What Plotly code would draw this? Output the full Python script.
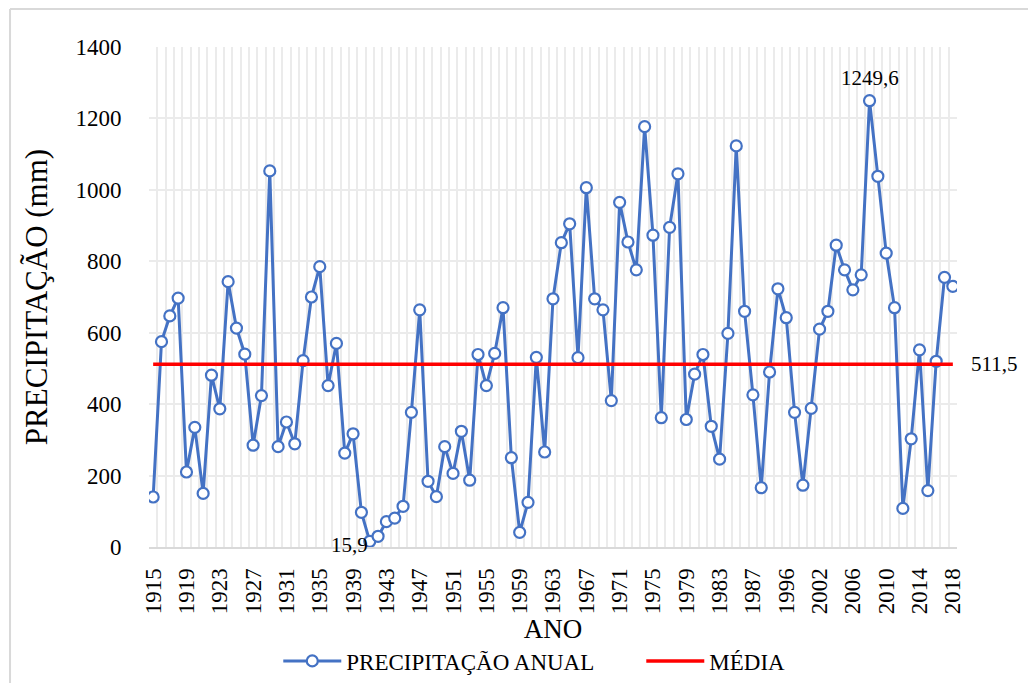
"""Precipitação anual com a média do período."""

import plotly.graph_objects as go

# Years on the category axis (gaps after 1987 and after 1996 as in the source)
anos = list(range(1915, 1988)) + [1988, 1989, 1990, 1996, 1997, 1998, 2000] + list(range(2002, 2019))

# Annual precipitation (mm)
precipitacao = [
    140, 575, 647, 697, 210, 335, 150, 481, 387, 743,
    613, 540, 285, 424, 1053, 281, 350, 289, 522, 700,
    785, 452, 570, 263, 317, 97, 15.9, 30, 71, 81,
    114, 377, 664, 184, 141, 281, 206, 324, 187, 539,
    452, 542, 670, 250, 41, 125, 531, 266, 695, 852,
    905, 530, 1006, 695, 664, 410, 965, 854, 776, 1177,
    873, 362, 895, 1045, 357, 484, 539, 338, 246, 598,
    1123, 660, 426, 166, 490, 723, 642, 377, 173, 388,
    610, 660, 845, 776, 720, 762, 1249.6, 1038, 823, 670,
    108, 303, 552, 158, 520, 755, 730,
]
media = 511.5

y_ticks = [0, 200, 400, 600, 800, 1000, 1200, 1400]

FONT = "Liberation Serif, Times New Roman, serif"
AZUL = "#4472C4"
GRID = "#ebebeb"

idx = list(range(len(anos)))
tick_idx = idx[::4]
tick_txt = [str(anos[i]) for i in tick_idx]

fig = go.Figure()
fig.add_trace(go.Scatter(
    x=idx, y=precipitacao,
    name="PRECIPITAÇÃO ANUAL",
    mode="lines+markers",
    line=dict(color=AZUL, width=3),
    marker=dict(symbol="circle", size=11, color="white", line=dict(color=AZUL, width=2.2)),
))
fig.add_trace(go.Scatter(
    x=[idx[0], idx[-1]], y=[media, media],
    name="MÉDIA",
    mode="lines",
    line=dict(color="#FF0000", width=3.5),
))

# data labels
i_max = precipitacao.index(max(precipitacao))
i_min = precipitacao.index(min(precipitacao))
fig.add_annotation(x=i_max, y=precipitacao[i_max], text="1249,6", showarrow=False,
                   yanchor="bottom", yshift=9, font=dict(family=FONT, size=21, color="black"))
fig.add_annotation(x=i_min, y=precipitacao[i_min], text="15,9", showarrow=False,
                   xanchor="right", xshift=0, yanchor="middle", yshift=-4,
                   font=dict(family=FONT, size=21, color="black"))
fig.add_annotation(x=idx[-1], y=media, text="511,5", showarrow=False,
                   xanchor="left", xshift=16, yanchor="middle",
                   font=dict(family=FONT, size=21, color="black"))

# outer chart frame (top and left edges visible in the source)
fig.add_shape(type="line", xref="paper", yref="paper", x0=-0.172, x1=1.2, y0=1.076, y1=1.076,
              line=dict(color="#d9d9d9", width=2))
fig.add_shape(type="line", xref="paper", yref="paper", x0=-0.172, x1=-0.172, y0=1.076, y1=-0.3,
              line=dict(color="#d9d9d9", width=2))

# the page body adds 8px around the figure, so margins are 8px smaller on top/left
fig.update_layout(
    width=1036, height=683,
    margin=dict(l=141, r=87, t=39, b=144, autoexpand=False),
    paper_bgcolor="white", plot_bgcolor="white",
    font=dict(family=FONT, size=23, color="black"),
    showlegend=True,
    legend=dict(orientation="h", x=0.16, xanchor="left", y=-0.185, yanchor="top",
                font=dict(family=FONT, size=23), itemwidth=58, entrywidth=290,
                tracegroupgap=0),
)
fig.update_xaxes(
    automargin=False,
    range=[-0.5, len(anos) - 0.5],
    tickmode="array", tickvals=tick_idx, ticktext=tick_txt,
    tickangle=-90, tickfont=dict(family=FONT, size=23),
    ticks="outside", ticklen=10, tickcolor="rgba(0,0,0,0)",
    showgrid=False,
    minor=dict(tick0=0.5, dtick=1, showgrid=True, gridcolor=GRID, gridwidth=1.5, ticks=""),
    showline=True, linecolor="#d9d9d9", linewidth=2,
    zeroline=False,
    title=dict(text="ANO", font=dict(family=FONT, size=27), standoff=6),
)
fig.update_yaxes(
    automargin=False,
    range=[0, 1400],
    tickmode="array", tickvals=y_ticks,
    tickfont=dict(family=FONT, size=23),
    ticks="outside", ticklen=22, tickcolor="rgba(0,0,0,0)",
    showgrid=True, gridcolor=GRID, gridwidth=2,
    zeroline=False, showline=False,
    title=dict(text="PRECIPITAÇÃO (mm)", font=dict(family=FONT, size=31), standoff=18),
)

fig.write_html("out.html")
